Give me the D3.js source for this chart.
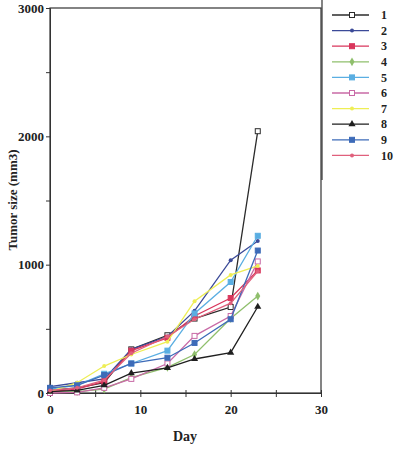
<!DOCTYPE html>
<html>
<head>
<meta charset="utf-8">
<script src="https://cdn.jsdelivr.net/npm/d3@7"></script>
<style>
  body { margin: 0; background: #fff; }
  svg text { font-family: "Liberation Serif", "DejaVu Serif", serif; font-weight: bold; fill: #222; }
</style>
</head>
<body>
<div id="chart"></div>
<script>
// days measured
const days = [0, 3, 6, 9, 13, 16, 20, 23];

// tumor size per mouse (mm3)
const mouse1 = [20, 40, 80, 340, 450, 580, 670, 2040];
const mouse2 = [50, 80, 110, 340, 440, 640, 1035, 1185];
const mouse3 = [10, 30, 90, 330, 430, 600, 740, 955];
const mouse4 = [5, 10, 30, 120, 200, 300, 580, 755];
const mouse5 = [30, 60, 150, 230, 330, 620, 865, 1225];
const mouse6 = [0, 5, 40, 110, 230, 445, 600, 1025];
const mouse7 = [10, 80, 210, 300, 400, 715, 920, 990];
const mouse8 = [10, 20, 60, 155, 195, 265, 315, 672];
const mouse9 = [40, 60, 140, 230, 275, 390, 575, 1110];
const mouse10 = [20, 40, 100, 310, 440, 575, 700, 948];

const labels = ["1", "2", "3", "4", "5", "6", "7", "8", "9", "10"];
const xTicks = [0, 5, 10, 15, 20, 25, 30];
const yTicks = [0, 500, 1000, 1500, 2000, 2500, 3000];

const seriesData = [mouse1, mouse2, mouse3, mouse4, mouse5, mouse6, mouse7, mouse8, mouse9, mouse10];
const colors = ["#2b2b2b", "#3b4a98", "#d9365c", "#8fbf6c", "#5aaee2", "#c86aa6", "#eeee55", "#1f1f1f", "#3d6bb8", "#e0607c"];
const markers = ["squareOpen", "dot", "square", "diamond", "square", "squareOpen", "dot", "triangle", "square", "dot"];

const width = 398, height = 449;
const svg = d3.select("#chart").append("svg")
    .attr("width", width)
    .attr("height", height);

const x = d3.scaleLinear().domain([0, 30]).range([50, 321]);
const y = d3.scaleLinear().domain([0, 3000]).range([393, 8]);

// frame
svg.append("rect")
    .attr("x", 50).attr("y", 8)
    .attr("width", 271).attr("height", 385)
    .attr("fill", "none")
    .attr("stroke", "#333")
    .attr("stroke-width", 1.2);

// axes
const xAxis = svg.append("g")
    .attr("transform", "translate(0,393)")
    .call(d3.axisBottom(x).tickValues(xTicks).tickSize(4).tickFormat(d => d % 10 === 0 ? d : ""));
xAxis.select(".domain").attr("stroke", "#333");
xAxis.selectAll("line").attr("stroke", "#333").attr("y1", -3);
xAxis.selectAll("text").attr("font-size", 13).attr("dy", "1.1em");

const yAxis = svg.append("g")
    .attr("transform", "translate(50,0)")
    .call(d3.axisLeft(y).tickValues(yTicks).tickSize(4).tickFormat(d => d % 1000 === 0 ? d : ""));
yAxis.select(".domain").attr("stroke", "#333");
yAxis.selectAll("line").attr("stroke", "#333");
yAxis.selectAll("text").attr("font-size", 13).attr("x", -6);

svg.append("text")
    .attr("x", 185).attr("y", 441)
    .attr("text-anchor", "middle")
    .attr("font-size", 14)
    .text("Day");

svg.append("text")
    .attr("transform", "translate(17,200) rotate(-90)")
    .attr("text-anchor", "middle")
    .attr("font-size", 13)
    .text("Tumor size (mm3)");

function drawMarker(g, type, color) {
    if (type === "square" || type === "squareOpen") {
        g.append("rect")
            .attr("x", -2.5).attr("y", -2.5)
            .attr("width", 5).attr("height", 5)
            .attr("fill", type === "square" ? color : "#fff")
            .attr("stroke", color)
            .attr("stroke-width", 1);
    } else if (type === "diamond") {
        g.append("path")
            .attr("d", d3.symbol().type(d3.symbolDiamond).size(22)())
            .attr("fill", color);
    } else if (type === "triangle") {
        g.append("path")
            .attr("d", d3.symbol().type(d3.symbolTriangle).size(22)())
            .attr("fill", color);
    } else {
        g.append("circle").attr("r", 2).attr("fill", color);
    }
}

const line = d3.line()
    .x((d, i) => x(days[i]))
    .y(d => y(d));

seriesData.forEach((vals, s) => {
    const g = svg.append("g");
    g.append("path")
        .datum(vals)
        .attr("d", line)
        .attr("fill", "none")
        .attr("stroke", colors[s])
        .attr("stroke-width", 1.3);
    vals.forEach((v, i) => {
        const m = g.append("g").attr("transform", "translate(" + x(days[i]) + "," + y(v) + ")");
        drawMarker(m, markers[s], colors[s]);
    });
});

// legend
svg.append("line")
    .attr("x1", 322).attr("x2", 322)
    .attr("y1", 0).attr("y2", 180)
    .attr("stroke", "#333")
    .attr("stroke-width", 1.2);

const legend = svg.selectAll(".legend")
    .data(labels)
    .enter()
    .append("g")
    .attr("class", "legend")
    .attr("transform", (d, i) => "translate(0," + (15 + i * 15.6) + ")");

legend.append("line")
    .attr("x1", 332).attr("x2", 369)
    .attr("stroke", (d, i) => colors[i])
    .attr("stroke-width", 1.3);

legend.each(function(d, i) {
    const m = d3.select(this).append("g").attr("transform", "translate(352,0)");
    drawMarker(m, markers[i], colors[i]);
});

legend.append("text")
    .attr("x", 381)
    .attr("dy", "0.35em")
    .attr("font-size", 12)
    .text(d => d);
</script>
</body>
</html>
